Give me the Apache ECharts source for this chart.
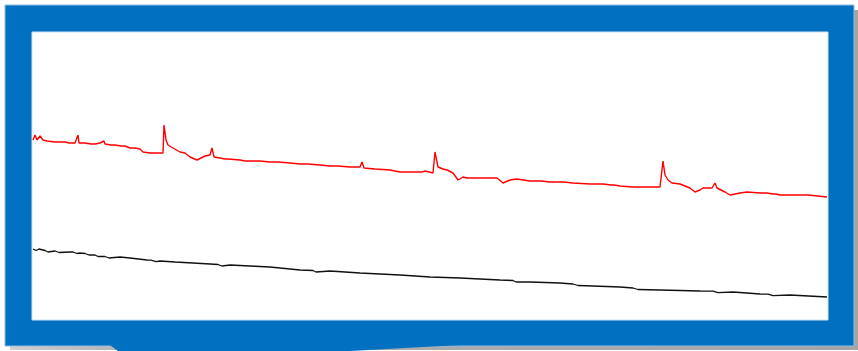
<!DOCTYPE html>
<html>
<head>
<meta charset="utf-8">
<script src="https://cdn.jsdelivr.net/npm/echarts@6/dist/echarts.min.js"></script>
<style>
  html, body { margin: 0; padding: 0; background: #ffffff; }
  #chart { width: 858px; height: 351px; }
</style>
</head>
<body>
<div id="chart"></div>
<script>
// Upper trace (red): slow downward drift with three sharp transients
const redTrace = [
  [0,180],[2,185],[4,180],[7,184],[10,180],[14,179],[22,178],[32,178],[36,177],[37,179],
  [42,177],[45,185],[46,177],[52,177],[58,176],[59,178],[62,176],[67,177],[71,179],
  [72,176],[78,175],[79,177],[82,175],[88,174],[89,176],[92,174],[97,172],[102,172],
  [107,171],[110,168],[117,167],[130,167],
  [131,195],[133,180],[135,175],[140,172],[147,168],[152,167],[157,163],[164,160],
  [172,164],[177,165],[179,172],[181,163],[187,162],[192,161],[193,159],[195,161],
  [197,161],[207,160],[212,159],[213,157],[215,159],[217,159],[227,159],[237,158],
  [242,158],[243,156],[245,158],[247,157],[257,157],[267,156],[272,156],[273,154],
  [275,156],[277,156],[287,155],[297,154],[302,154],[303,152],[305,154],[307,154],
  [317,153],[327,153],[329,158],[331,152],[342,151],[357,150],[367,148],
  [382,148],[386,148],[387,150],[389,148],[392,149],[400,147],
  [402,168],[405,153],[410,151],[414,150],[420,147],[425,140],[430,143],[434,142],
  [447,142],[455,142],[456,144],[458,142],[464,142],[470,137],[477,140],[484,141],
  [497,139],[505,139],[506,141],[508,139],[517,138],[528,138],[529,136],[531,138],
  [540,137],[557,136],[570,136],[578,135],[579,137],[581,135],[587,134],[600,133],
  [617,133],[627,133],
  [630,159],[632,145],[635,140],[639,137],[647,136],[657,132],[662,128],[667,130],
  [670,132],[679,132],[682,137],[684,132],[692,128],[697,125],[707,127],[714,128],
  [727,127],[734,127],[740,126],[741,124],[743,126],[747,125],[764,125],[772,125],
  [773,123],[775,125],[777,124],[794,123]
];

// Lower trace (black): steady decline with small dropouts
const blackTrace = [
  [0,71],[2,71],[3,69.5],[5,69.5],[6,71],[7,70],[12,69.5],[13,68],[15,68],[16,69.5],
  [17,69],[22,69],[23,67.5],[26,67.5],[27,69],[37,68],[40,68],[41,66.5],[44,66.5],
  [45,68],[47,67],[52,66.5],[53,65],[56,65],[57,66],[62,65],[63,63.5],[65,63.5],
  [66,64.5],[67,64],[72,63.5],[73,62],[76,62],[77,63],[87,63],[97,62],[114,60],
  [118,59.8],[119,58.3],[123,58.3],[124,59.5],[127,59],[142,58],[160,57],[177,56],
  [185,55.5],[186,54],[189,54],[190,55.3],[197,55],[217,54],[237,53],[267,50],
  [280,49.5],[281,48],[283,48],[284,49.3],[297,49],[327,47],[367,45],[397,43],
  [427,42],[467,40],[480,39.5],[481,38],[483,38],[484,39.3],[497,38],[527,37],
  [540,36],[541,34.5],[545,34.5],[546,35.8],[560,34],[587,33],[600,32],[601,30.5],
  [605,30.5],[606,31.8],[627,30],[667,29],[680,28.8],[681,27.3],[685,27.3],
  [686,28.6],[700,28],[727,26],[735,25.8],[736,24.3],[740,24.3],[741,25.6],
  [757,25],[794,23]
];

const frameBlue = '#0070c0';

const chart = echarts.init(document.getElementById('chart'), null, { renderer: 'canvas' });
chart.setOption({
  animation: false,
  backgroundColor: '#ffffff',
  grid: { left: 33, top: 32, width: 795, height: 288, containLabel: false },
  xAxis: { type: 'value', min: 0, max: 795, show: false },
  yAxis: { type: 'value', min: 0, max: 288, show: false },
  graphic: [
    // drop shadow behind the frame
    { type: 'rect', z: 0, shape: { x: 10, y: 10, width: 848, height: 340 },
      style: {
        fill: new echarts.graphic.LinearGradient(0, 0, 1, 0, [
          { offset: 0, color: '#d0d0d0' },
          { offset: 0.15, color: '#b0b0b0' },
          { offset: 1, color: '#a4a4a4' }
        ])
      } },
    // blue frame body
    { type: 'rect', z: 1, shape: { x: 5, y: 5, width: 849, height: 341 },
      style: { fill: frameBlue, stroke: '#8fbde3', lineWidth: 1 } },
    // curled lower edge
    { type: 'polygon', z: 1, shape: { points: [[110,345],[118,351],[350,351],[460,345]] },
      style: { fill: frameBlue } },
    // plotting area
    { type: 'rect', z: 2, shape: { x: 32, y: 32, width: 796, height: 288 },
      style: { fill: '#ffffff', stroke: '#cfe2f3', lineWidth: 1 } }
  ],
  series: [
    {
      type: 'line', data: redTrace, showSymbol: false, z: 5,
      lineStyle: { color: '#ff0000', width: 1.4 }
    },
    {
      type: 'line', data: blackTrace, showSymbol: false, z: 5,
      lineStyle: { color: '#111111', width: 1.3 }
    }
  ]
});
</script>
</body>
</html>
